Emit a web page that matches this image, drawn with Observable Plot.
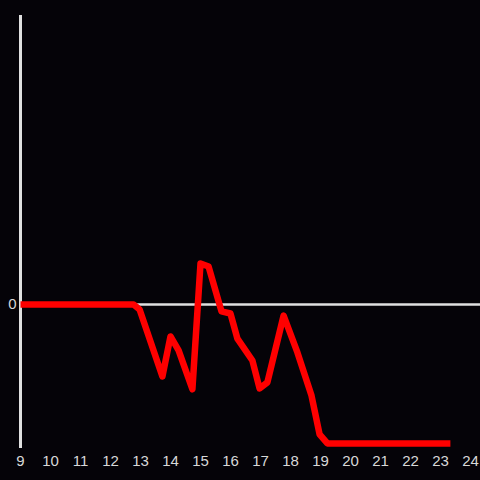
<!DOCTYPE html>
<html>
<head>
<meta charset="utf-8">
<script src="https://cdn.jsdelivr.net/npm/d3@7"></script>
<script src="https://cdn.jsdelivr.net/npm/@observablehq/plot@0.6"></script>
<style>
html, body { margin: 0; padding: 0; background: #050308; }
#chart { width: 480px; height: 480px; }
#chart svg text { font-size: 15px; font-family: "Liberation Sans", Arial, sans-serif; }
</style>
</head>
<body>
<div id="chart"></div>
<script>
const hours = [9, 12.77, 12.97, 13.73, 14.0, 14.27, 14.73, 15.0, 15.27, 15.7, 16.0, 16.23, 16.73, 16.97, 17.23, 17.77, 18.23, 18.7, 18.97, 19.23, 23.33];
const values = [0, 0, -3.6, -51.8, -23, -33, -61, 29.5, 27.3, -5, -6.5, -24.5, -40.3, -60.4, -56, -8, -34.5, -65.5, -93.5, -100, -100];
const xTicks = [9, 10, 11, 12, 13, 14, 15, 16, 17, 18, 19, 20, 21, 22, 23, 24];
const yTicks = [0];

const data = hours.map((h, i) => ({h, v: values[i]}));

const chart = Plot.plot({
  width: 480,
  height: 480,
  marginLeft: 20,
  marginRight: 10,
  marginTop: 15,
  marginBottom: 32,
  style: {background: "#050308", color: "#d8d8d8"},
  x: {domain: [9, 24]},
  y: {domain: [-103.6, 207.9]},
  marks: [
    Plot.ruleY([0], {stroke: "#e0e0e0", strokeWidth: 2.5, insetRight: -10}),
    Plot.ruleX([9], {stroke: "#e0e0e0", strokeWidth: 3}),
    Plot.axisX({ticks: xTicks, tickSize: 0, tickPadding: 7, label: null, fill: "#d8d8d8"}),
    Plot.axisY({ticks: yTicks, tickSize: 0, tickPadding: 4, label: null, fill: "#d8d8d8"}),
    Plot.line(data, {x: "h", y: "v", stroke: "#ff0000", strokeWidth: 6.5, strokeLinecap: "butt", strokeLinejoin: "round"})
  ]
});
document.getElementById("chart").appendChild(chart);
</script>
</body>
</html>
